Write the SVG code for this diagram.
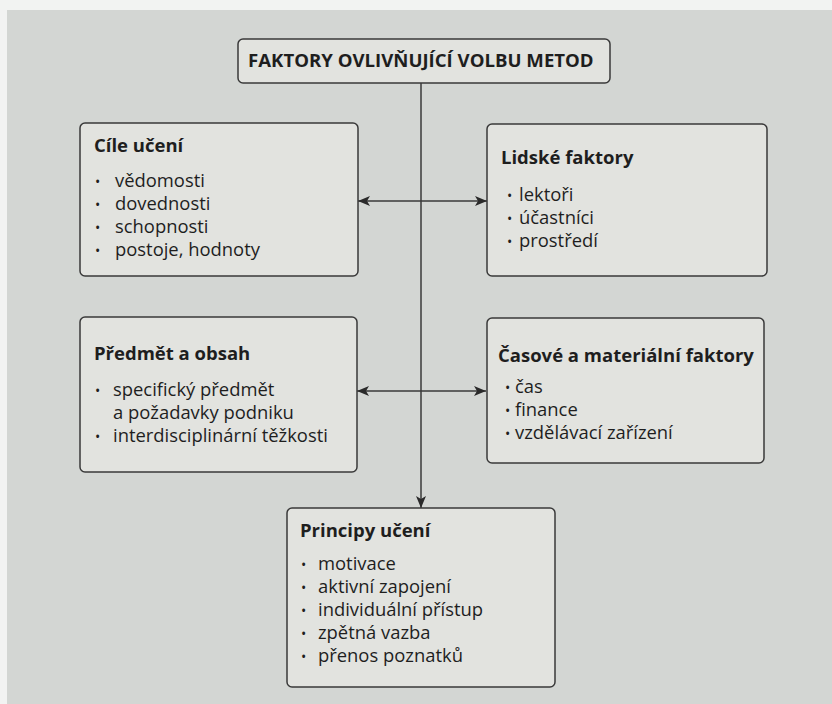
<svg xmlns="http://www.w3.org/2000/svg" width="832" height="704" viewBox="0 0 832 704">
<style>
.box{fill:#e2e3df;stroke:#3a3a3a;stroke-width:1.5}
.t{font-family:"Open Sans","Noto Sans",sans-serif;font-weight:700;font-size:18.5px;fill:#1e1e1e}
.b{font-family:"Open Sans","Noto Sans",sans-serif;font-size:18.4px;fill:#1e1e1e}
.d{font-family:"Open Sans","Noto Sans",sans-serif;font-size:14px;fill:#1e1e1e}
.ln{stroke:#3a3a3a;stroke-width:1.5;fill:none}
</style>
<defs>
<marker id="ah" viewBox="0 0 12 10" refX="12" refY="5" markerWidth="12" markerHeight="10" markerUnits="userSpaceOnUse" orient="auto-start-reverse">
<path d="M0,0 L12,5 L0,10 L3,5 Z" fill="#2a2a2a"/>
</marker>
</defs>
<rect width="832" height="704" fill="#f2f3f2"/>
<rect x="7" y="10" width="825" height="694" fill="#d3d6d3"/>
<g id="connectors">
<line class="ln" x1="421" y1="83" x2="421" y2="508" marker-end="url(#ah)"/>
<line class="ln" x1="358" y1="201" x2="487" y2="201" marker-start="url(#ah)" marker-end="url(#ah)"/>
<line class="ln" x1="357" y1="391" x2="486" y2="391" marker-start="url(#ah)" marker-end="url(#ah)"/>
</g>
<g id="top">
<rect class="box" x="238" y="39" width="372" height="44" rx="5"/>
<text class="t" x="248" y="67" style="font-size:18.6px">FAKTORY OVLIVŇUJÍCÍ VOLBU METOD</text>
</g>
<g id="cile">
<rect class="box" x="80" y="123" width="278" height="153" rx="5"/>
<text class="t" x="94" y="152">Cíle učení</text>
<text class="d" x="95" y="187">•</text><text class="b" x="115" y="187">vědomosti</text>
<text class="d" x="95" y="210">•</text><text class="b" x="115" y="210">dovednosti</text>
<text class="d" x="95" y="233">•</text><text class="b" x="115" y="233">schopnosti</text>
<text class="d" x="95" y="256">•</text><text class="b" x="115" y="256">postoje, hodnoty</text>
</g>
<g id="lidske">
<rect class="box" x="487" y="124" width="280" height="152" rx="5"/>
<text class="t" x="501" y="164">Lidské faktory</text>
<text class="d" x="507" y="201">•</text><text class="b" x="519" y="201">lektoři</text>
<text class="d" x="507" y="224">•</text><text class="b" x="519" y="224">účastníci</text>
<text class="d" x="507" y="247">•</text><text class="b" x="519" y="247">prostředí</text>
</g>
<g id="predmet">
<rect class="box" x="80" y="317" width="277" height="155" rx="5"/>
<text class="t" x="94" y="360">Předmět a obsah</text>
<text class="d" x="95" y="396">•</text><text class="b" x="113" y="396">specifický předmět</text>
<text class="b" x="113" y="419">a požadavky podniku</text>
<text class="d" x="95" y="442">•</text><text class="b" x="113" y="442">interdisciplinární těžkosti</text>
</g>
<g id="casove">
<rect class="box" x="487" y="318" width="277" height="145" rx="5"/>
<text class="t" x="498" y="362">Časové a materiální faktory</text>
<text class="d" x="505" y="393">•</text><text class="b" x="515" y="393">čas</text>
<text class="d" x="505" y="416">•</text><text class="b" x="515" y="416">finance</text>
<text class="d" x="505" y="439">•</text><text class="b" x="515" y="439">vzdělávací zařízení</text>
</g>
<g id="principy">
<rect class="box" x="287" y="508" width="268" height="179" rx="5"/>
<text class="t" x="300" y="537">Principy učení</text>
<text class="d" x="301" y="570">•</text><text class="b" x="318" y="570">motivace</text>
<text class="d" x="301" y="593">•</text><text class="b" x="318" y="593">aktivní zapojení</text>
<text class="d" x="301" y="616">•</text><text class="b" x="318" y="616">individuální přístup</text>
<text class="d" x="301" y="639">•</text><text class="b" x="318" y="639">zpětná vazba</text>
<text class="d" x="301" y="662">•</text><text class="b" x="318" y="662">přenos poznatků</text>
</g>
</svg>
